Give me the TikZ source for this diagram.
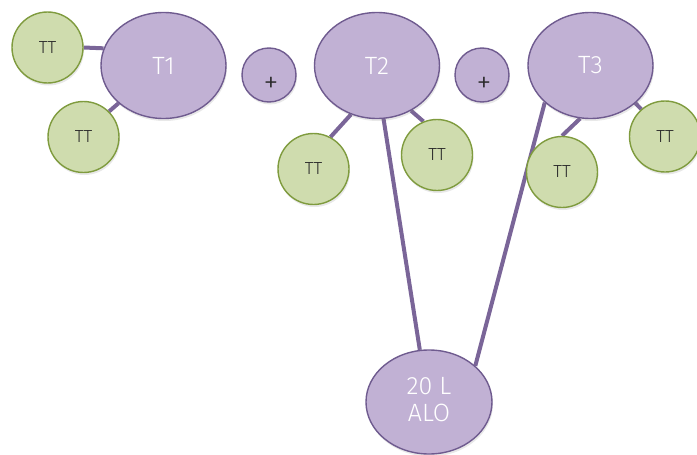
\documentclass[tikz,border=0pt]{standalone}
\usepackage{fontspec}
\setmainfont{Fira Sans}
\newfontfamily\lightsf{Fira Sans Light}
\usetikzlibrary{shapes.geometric,shadows,backgrounds}
\definecolor{lilac}{HTML}{C1B1D4}
\definecolor{lilacedge}{HTML}{6F5B8F}
\definecolor{sage}{HTML}{CFDCAE}
\definecolor{sageedge}{HTML}{7F9B3E}
\definecolor{linkcol}{HTML}{7A6598}
\definecolor{ink}{HTML}{2A2A2A}
\tikzset{
  softshadow/.style={drop shadow={opacity=0.18,shadow xshift=1pt,shadow yshift=-2.5pt}},
  tank/.style={ellipse,draw=lilacedge,line width=1.4pt,fill=lilac,softshadow,
    minimum width=125pt,minimum height=106pt,inner sep=0pt,
    text=white,font=\lightsf\fontsize{25}{28}\selectfont,align=center},
  plus/.style={circle,draw=lilacedge,line width=1.4pt,fill=lilac,softshadow,
    minimum size=54pt,inner sep=0pt,text=ink,font=\lightsf\fontsize{30}{34}\selectfont},
  tt/.style={circle,draw=sageedge,line width=1.4pt,fill=sage,softshadow,
    minimum size=71pt,inner sep=0pt,text=ink,font=\lightsf\fontsize{17.5}{21}\selectfont},
  link/.style={draw=linkcol,line width=4pt}
}
\begin{document}
\begin{tikzpicture}[x=1pt,y=-1pt]
\useasboundingbox (0,0) rectangle (697,455);
% tanks
\node[tank] (t1) at (163.5,65.5) {T1};
\node[tank] (t2) at (377,65.5) {T2};
\node[tank] (t3) at (590.5,65.5) {T3};
\node[tank,minimum width=126pt,minimum height=104pt] (alo) at (429,402) {\raisebox{-3pt}{\begin{tabular}{@{}c@{}}20 L\\[-1pt]ALO\end{tabular}}};
% plus signs, set a little low and right of centre
\node[plus] (p1) at (269,75) {\hspace{4pt}\smash{\raisebox{-17pt}{+}}};
\node[plus] (p2) at (482,75) {\hspace{4pt}\smash{\raisebox{-17pt}{+}}};
% satellite circles
\node[tt] (a1) at (47.5,47.5) {TT};
\node[tt] (a2) at (83.5,137) {TT};
\node[tt] (b1) at (313.5,169) {TT};
\node[tt] (b2) at (437,155) {TT};
\node[tt] (c1) at (562,172) {TT};
\node[tt] (c2) at (665,136.5) {TT};
% connectors behind the shapes
\begin{scope}[on background layer]
\draw[link] (a1.0) -- (t1.164);
\draw[link] (a2.45) -- (t1.220);
\draw[link] (b1.62) -- (t2.242);
\draw[link] (b2.112) -- (t2.307);
\draw[link] (t2.277) -- (alo.100);
\draw[link] (t3.219) -- (alo.38);
\draw[link] (c1.90) -- (t3.259);
\draw[link] (c2.131) -- (t3.320);
\end{scope}
\end{tikzpicture}
\end{document}
